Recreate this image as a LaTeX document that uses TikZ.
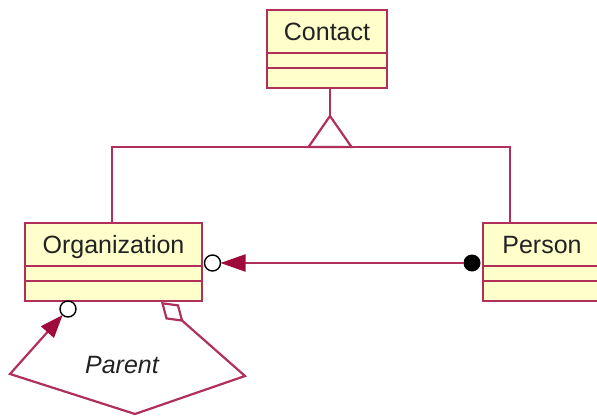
\documentclass[tikz,border=0pt]{standalone}
\usepackage{fontspec}
\setmainfont{Liberation Sans}
\usepackage{tikz}
\usetikzlibrary{positioning, arrows.meta}
\definecolor{uml_red}{HTML}{B0305A}
\definecolor{uml_dark}{HTML}{9E0B3A}
\definecolor{uml_yellow}{HTML}{FFFFCC}
\definecolor{uml_text}{HTML}{222222}

\begin{document}
\begin{tikzpicture}[x=1pt, y=-1pt,
  every node/.style={font=\fontsize{25}{30}\selectfont, text=uml_text},
  box/.style={draw=uml_red, fill=uml_yellow, line width=2.2pt, outer sep=0pt, inner sep=0pt},
  classname/.style={box, minimum height=43pt, text height=18pt, text depth=0pt},
  classattr/.style={box, minimum height=15pt},
  classops/.style={box, minimum height=20pt},
  link/.style={draw=uml_red, line width=2.2pt},
  endcirc/.style={circle, draw=black, fill=white, line width=1.4pt, minimum size=16pt, inner sep=0pt, outer sep=0pt},
  enddot/.style={circle, fill=black, minimum size=17pt, inner sep=0pt, outer sep=0pt}]

  \useasboundingbox (0,0) rectangle (597,417);

  % classes
  \node[classname, minimum width=120pt] (contact) at (327,31.5) {Contact};
  \node[classattr, minimum width=120pt, below=0pt of contact] (contactattr) {};
  \node[classops, minimum width=120pt, below=0pt of contactattr] (contactops) {};

  \node[classname, minimum width=177pt] (org) at (113.5,244.5) {Organization};
  \node[classattr, minimum width=177pt, below=0pt of org] (orgattr) {};
  \node[classops, minimum width=177pt, below=0pt of orgattr] (orgops) {};

  \node[classname, minimum width=118pt] (person) at (542,244.5) {Person};
  \node[classattr, minimum width=118pt, below=0pt of person] (personattr) {};
  \node[classops, minimum width=118pt, below=0pt of personattr] (personops) {};

  % generalization
  \coordinate (genapex) at (330,116);
  \coordinate (genbase) at (330,147);
  \coordinate (orgjoin) at (112,147);
  \coordinate (personjoin) at (510,147);
  \draw[link] (contactops.south -| genapex) -- (genapex);
  \draw[link] (genapex) -- ([xshift=-21.5pt]genbase) -- ([xshift=21.5pt]genbase) -- cycle;
  \draw[link] (org.north -| orgjoin) -- (orgjoin) -- (personjoin) -- (person.north -| personjoin);

  % association
  \node[endcirc] (orgend) at (212.5,263) {};
  \node[enddot] (personend) at (472,263) {};
  \draw[link, -{Triangle[length=25pt, width=17pt, color=uml_dark]}] (personend) -- (orgend);

  % self association
  \node[endcirc] (selfend) at (68,309) {};
  \coordinate (aggtip) at (161,302);
  \coordinate (parentright) at (245,376);
  \coordinate (parentbottom) at (135,414);
  \coordinate (parentleft) at (10,374);
  \draw[link, {Diamond[open, length=30pt, width=20pt]}-{Triangle[length=23pt, width=17pt, color=uml_dark]}]
    (aggtip) -- (parentright) -- (parentbottom) -- (parentleft) -- (selfend);
  \node[font=\itshape\fontsize{25}{30}\selectfont] (parent) at (122,365) {Parent};

\end{tikzpicture}
\end{document}
